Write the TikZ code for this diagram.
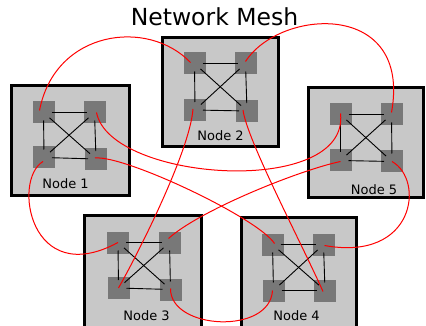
\documentclass[tikz,border=0pt]{standalone}
\usepackage{fontspec}
\setmainfont{DejaVu Sans}
\definecolor{boxfill}{RGB}{200,200,200}
\definecolor{sqfill}{RGB}{120,120,120}
\begin{document}
\begin{tikzpicture}[x=1pt,y=-1pt,
  nodebox/.style={draw=black,line width=3pt,fill=boxfill,inner sep=0pt},
  port/.style={rectangle,fill=sqfill,minimum size=22pt,inner sep=0pt},
  link/.style={black,line width=0.9pt,shorten >=8pt,shorten <=8pt},
  mesh/.style={red,line width=1pt},
  lbl/.style={font=\fontsize{13}{15}\selectfont,anchor=base,inner sep=0pt},
  ttl/.style={font=\fontsize{23.5}{27}\selectfont,anchor=base,inner sep=0pt}]
\useasboundingbox (0,0) rectangle (426,326);
\clip (0,0) rectangle (426,326);
\fill[white] (0,0) rectangle (426,326);
% boxes
\node[nodebox,minimum width=118pt,minimum height=110pt] (box1) at (70.5,140.5) {};
\node[nodebox,minimum width=116pt,minimum height=109pt] (box2) at (220.5,92) {};
\node[nodebox,minimum width=115pt,minimum height=110pt] (box5) at (366,142.5) {};
\node[nodebox,minimum width=117pt,minimum height=129.5pt] (box3) at (143,280.25) {};
\node[nodebox,minimum width=115pt,minimum height=127.5pt] (box4) at (299,281.25) {};
% ports
\node[port] (p1a) at (43.5,112.5) {};
\node[port] (p1b) at (94.5,112.5) {};
\node[port] (p1c) at (44,157.5) {};
\node[port] (p1d) at (96,159) {};
\node[port] (p2a) at (194.5,63.5) {};
\node[port] (p2b) at (245.5,63.5) {};
\node[port] (p2c) at (195,110) {};
\node[port] (p2d) at (247,111) {};
\node[port] (p5a) at (340.5,114.5) {};
\node[port] (p5b) at (391.5,114.5) {};
\node[port] (p5c) at (340.5,160.5) {};
\node[port] (p5d) at (392,161.5) {};
\node[port] (p3a) at (118,242.5) {};
\node[port] (p3b) at (169.5,242.5) {};
\node[port] (p3c) at (118.5,288) {};
\node[port] (p3d) at (170.5,289.5) {};
\node[port] (p4a) at (272.5,244.5) {};
\node[port] (p4b) at (323.5,244.5) {};
\node[port] (p4c) at (273.5,290.5) {};
\node[port] (p4d) at (325,290.5) {};
% internal links
\foreach \n in {1,2,3,4,5}{
  \draw[link] (p\n a.center) -- (p\n b.center);
  \draw[link] (p\n a.center) -- (p\n c.center);
  \draw[link] (p\n b.center) -- (p\n d.center);
  \draw[link] (p\n c.center) -- (p\n d.center);
  \draw[link] (p\n a.center) -- (p\n d.center);
  \draw[link] (p\n b.center) -- (p\n c.center);
}
% labels
\node[ttl] (title) at (214.5,26) {Network Mesh};
\node[lbl] (l1) at (65.5,189) {Node 1};
\node[lbl] (l2) at (220.5,141) {Node 2};
\node[lbl] (l5) at (374,195) {Node 5};
\node[lbl] (l3) at (146.5,320) {Node 3};
\node[lbl] (l4) at (296.5,320) {Node 4};
% mesh connections
\draw[mesh] ([shift={(-4,-2)}]p1a.center) .. controls (55,30) and (148,18) .. ([shift={(-4,-1)}]p2a.center);
\draw[mesh] ([shift={(0,-2)}]p2b.center) .. controls (280,8) and (412,0) .. ([shift={(0,-2)}]p5b.center);
\draw[mesh] ([shift={(2,0)}]p1b.center) .. controls (110,182) and (350,198) .. ([shift={(0,-1)}]p5a.center);
\draw[mesh] ([shift={(-1,-1)}]p1d.center) .. controls (125,155) and (258,218) .. ([shift={(2,-1)}]p4a.center);
\draw[mesh] ([shift={(-1,-4)}]p3b.center) .. controls (200,210) and (300,170) .. ([shift={(0,1)}]p5c.center);
\draw[mesh] ([shift={(-2,-1)}]p2c.center) .. controls (190,150) and (140,250) .. (p3c.center);
\draw[mesh] ([shift={(-4,-1)}]p2d.center) .. controls (247,140) and (300,240) .. ([shift={(-2,1)}]p4d.center);
\draw[mesh] (p5d.center) .. controls (425,180) and (415,262) .. ([shift={(1,1)}]p4b.center);
\draw[mesh] ([shift={(-1,4)}]p1c.center) .. controls (12,180) and (30,290) .. (p3a.center);
\draw[mesh] ([shift={(0,-1)}]p3d.center) .. controls (170,330) and (270,335) .. ([shift={(-1,0)}]p4c.center);
\end{tikzpicture}
\end{document}
